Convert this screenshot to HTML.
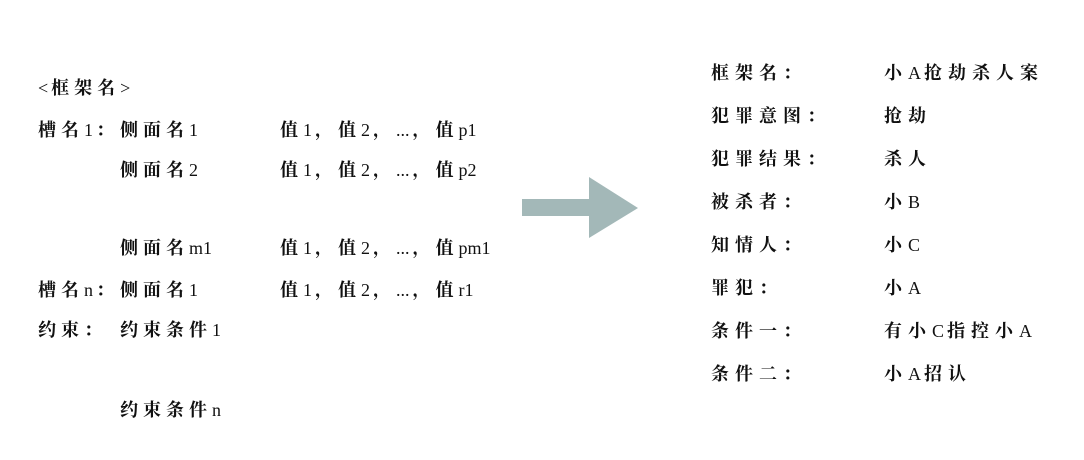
<!DOCTYPE html>
<html><head><meta charset="utf-8">
<style>
html,body{margin:0;padding:0;background:#fff;}
#root{position:relative;width:1084px;height:460px;overflow:hidden;font-family:"Liberation Serif","Noto Serif CJK SC",serif;font-size:18px;color:#111;}
.t{position:absolute;white-space:pre;line-height:24px;font-weight:bold;letter-spacing:5px;}
.t span{font-weight:normal;letter-spacing:0;margin-right:3px;}
.lab{letter-spacing:6px;}
.val{letter-spacing:6px;}
</style></head><body>
<div id="root">
<div class="t" style="left:38px;top:76px"><span>&lt;</span>框架名<span>&gt;</span></div>
<div class="t" style="left:38px;top:118px">槽名<span>1</span>：</div>
<div class="t" style="left:120px;top:118px">侧面名<span>1</span></div>
<div class="t" style="left:280px;top:118px">值<span>1</span>，值<span>2</span>，<span>...</span>，值<span>p1</span></div>
<div class="t" style="left:120px;top:158px">侧面名<span>2</span></div>
<div class="t" style="left:280px;top:158px">值<span>1</span>，值<span>2</span>，<span>...</span>，值<span>p2</span></div>
<div class="t" style="left:120px;top:236px">侧面名<span>m1</span></div>
<div class="t" style="left:280px;top:236px">值<span>1</span>，值<span>2</span>，<span>...</span>，值<span>pm1</span></div>
<div class="t" style="left:38px;top:278px">槽名<span>n</span>：</div>
<div class="t" style="left:120px;top:278px">侧面名<span>1</span></div>
<div class="t" style="left:280px;top:278px">值<span>1</span>，值<span>2</span>，<span>...</span>，值<span>r1</span></div>
<div class="t" style="left:38px;top:318px">约束：</div>
<div class="t" style="left:120px;top:318px">约束条件<span>1</span></div>
<div class="t" style="left:120px;top:398px">约束条件<span>n</span></div>

<svg style="position:absolute;left:0;top:0" width="1084" height="460">
<polygon points="522,199 589,199 589,177 638,208 589,238 589,216 522,216" fill="#a3b8b8"/>
</svg>

<div class="t lab" style="left:711px;top:61px">框架名：</div>
<div class="t val" style="left:884px;top:61px">小<span>A</span>抢劫杀人案</div>
<div class="t lab" style="left:711px;top:104px">犯罪意图：</div>
<div class="t val" style="left:884px;top:104px">抢劫</div>
<div class="t lab" style="left:711px;top:147px">犯罪结果：</div>
<div class="t val" style="left:884px;top:147px">杀人</div>
<div class="t lab" style="left:711px;top:190px">被杀者：</div>
<div class="t val" style="left:884px;top:190px">小<span>B</span></div>
<div class="t lab" style="left:711px;top:233px">知情人：</div>
<div class="t val" style="left:884px;top:233px">小<span>C</span></div>
<div class="t lab" style="left:711px;top:276px">罪犯：</div>
<div class="t val" style="left:884px;top:276px">小<span>A</span></div>
<div class="t lab" style="left:711px;top:319px">条件一：</div>
<div class="t val" style="left:884px;top:319px">有小<span>C</span>指控小<span>A</span></div>
<div class="t lab" style="left:711px;top:362px">条件二：</div>
<div class="t val" style="left:884px;top:362px">小<span>A</span>招认</div>
</div>
</body></html>
